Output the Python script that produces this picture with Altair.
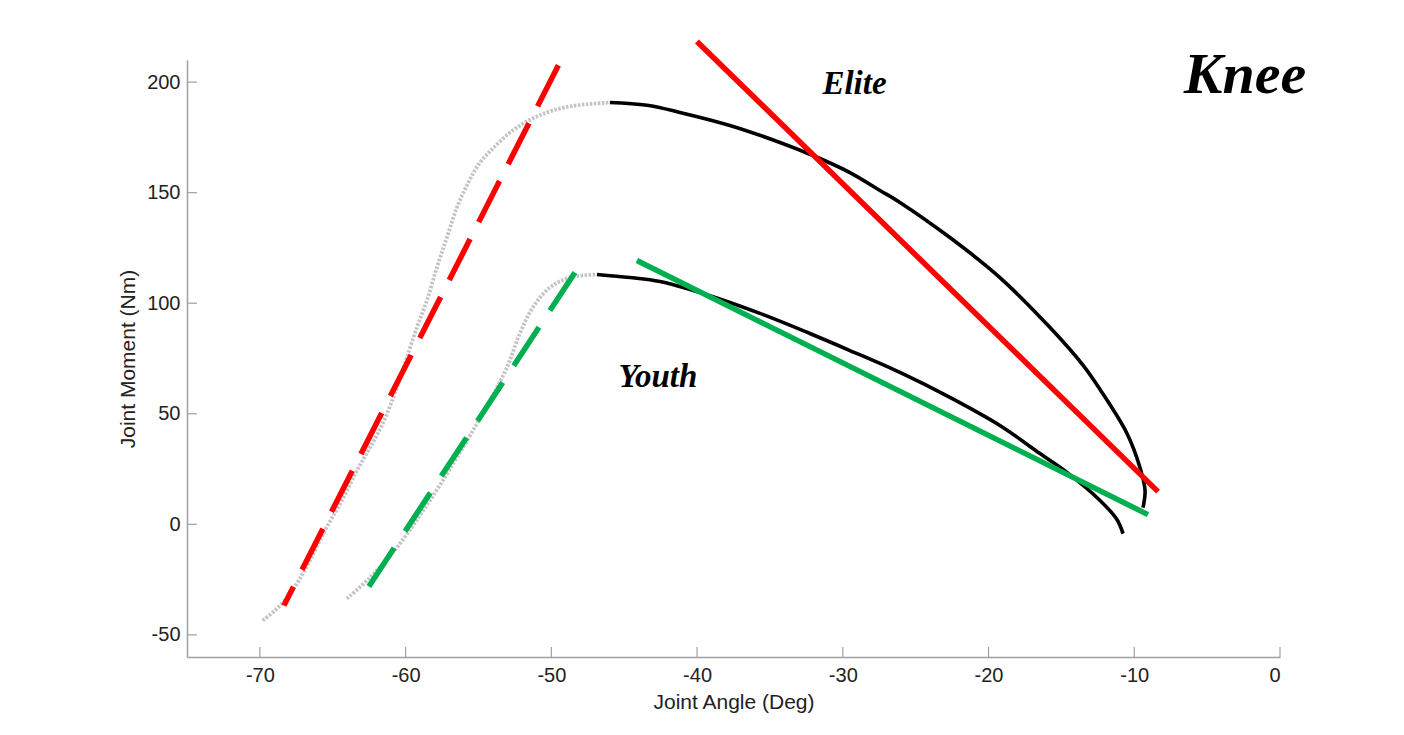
import altair as alt
import pandas as pd

# ---- Elite: early (dotted grey) part and main (black) part of the moment-angle curve
elite_pre_x = [-69.80, -68.97, -68.29, -67.46, -66.57, -65.54, -64.37, -63.34, -62.45, -61.63,
               -60.87, -60.32, -59.91, -59.23, -58.54, -57.85, -57.17, -56.48, -55.70, -54.90,
               -54.01, -52.64, -51.27, -49.89, -48.25, -45.98]
elite_pre_y = [-43.5, -39.0, -34.5, -26.8, -16.4, -2.8, 10.8, 24.3, 34.7, 44.7,
               56.9, 67.3, 75.5, 89.0, 101.2, 116.2, 129.7, 143.3, 154.5, 163.6,
               170.0, 178.2, 183.6, 187.2, 189.5, 190.8]
elite_x = [-45.98, -43.44, -41.18, -37.75, -34.31, -32.05, -29.51, -27.45, -26.08, -22.65,
           -19.22, -15.78, -13.52, -12.35, -10.50, -9.61, -9.26, -9.40]
elite_y = [190.8, 189.5, 186.3, 180.4, 172.7, 166.8, 159.1, 151.0, 145.6, 129.7,
           111.6, 89.0, 72.0, 61.0, 41.1, 25.7, 15.3, 7.6]

# ---- Youth
youth_pre_x = [-64.03, -62.45, -60.60, -58.33, -56.07, -54.22, -53.05, -52.16, -51.27, -50.10,
               -48.73, -46.87]
youth_pre_y = [-33.6, -24.1, -10.5, 10.8, 34.7, 56.0, 70.9, 86.3, 98.1, 107.1, 111.6, 113.0]
youth_x = [-46.87, -44.61, -42.55, -39.60, -35.69, -32.26, -29.51, -26.08, -22.65, -19.22,
           -16.47, -14.62, -12.35, -11.19, -10.77]
youth_y = [113.0, 111.6, 109.8, 104.4, 95.4, 86.3, 78.6, 68.7, 57.4, 44.7,
           32.0, 23.5, 10.8, 2.2, -4.2]

# ---- fitted stiffness lines
elite_dash_x = [-68.35, -49.21]
elite_dash_y = [-36.7, 211.6]
youth_dash_x = [-62.52, -48.38]
youth_dash_y = [-28.1, 113.9]
elite_fit_x = [-40.01, -8.37]
elite_fit_y = [218.4, 14.8]
youth_fit_x = [-44.13, -9.06]
youth_fit_y = [119.3, 4.4]

# ---- axes and annotations
x_ticks = [-70, -60, -50, -40, -30, -20, -10, 0]
y_ticks = [-50, 0, 50, 100, 150, 200]
group_labels = ["Elite", "Youth"]
group_label_x = [-29.2, -42.69]
group_label_y = [194.4, 61.9]
title_text = ["Knee"]
title_x = [-2.4]
title_y = [194.9]


def frame(xs, ys, name):
    return pd.DataFrame({"x": xs, "y": ys, "series": name, "o": list(range(len(xs)))})


W, H = 1093, 597
AX = "#a0a0a0"
xs = alt.Scale(domain=[-75, 0], nice=False, zero=False)
ys = alt.Scale(domain=[-60, 210], nice=False, zero=False)
xaxis = alt.Axis(values=x_ticks, ticks=False, grid=False, domainColor=AX, domainWidth=1.5,
                 labelFont="Liberation Sans", labelFontSize=20, labelColor="#222222",
                 labelPadding=8, labelExpr="'' + datum.value",
                 title="Joint Angle (Deg)", titleFont="Liberation Sans", titleFontSize=21,
                 titleFontWeight="normal", titleColor="#222222", titlePadding=6)
yaxis = alt.Axis(values=y_ticks, ticks=False, grid=False, domainColor=AX, domainWidth=1.5,
                 labelFont="Liberation Sans", labelFontSize=20, labelColor="#222222",
                 labelPadding=7, labelExpr="'' + datum.value",
                 title="Joint Moment (Nm)", titleFont="Liberation Sans", titleFontSize=21,
                 titleFontWeight="normal", titleColor="#222222", titlePadding=8)

X = alt.X("x:Q", scale=xs, axis=xaxis)
Y = alt.Y("y:Q", scale=ys, axis=yaxis)

pre = pd.concat([frame(elite_pre_x, elite_pre_y, "elite"), frame(youth_pre_x, youth_pre_y, "youth")])
main = pd.concat([frame(elite_x, elite_y, "elite"), frame(youth_x, youth_y, "youth")])

grey = alt.Chart(pre).mark_line(color="#c4c4c4", strokeWidth=3.8, strokeDash=[2.5, 1.5],
                                interpolate="catmull-rom").encode(
    x=X, y=Y, order="o:Q", detail="series:N")
black = alt.Chart(main).mark_line(color="#000000", strokeWidth=3.6, interpolate="catmull-rom").encode(
    x=X, y=Y, order="o:Q", detail="series:N")

red_dash = alt.Chart(frame(elite_dash_x, elite_dash_y, "e")).mark_line(
    color="#ff0000", strokeWidth=5.5, strokeDash=[46, 19], strokeDashOffset=25).encode(x=X, y=Y, order="o:Q")
green_dash = alt.Chart(frame(youth_dash_x, youth_dash_y, "y")).mark_line(
    color="#00b050", strokeWidth=5.5, strokeDash=[46, 20]).encode(x=X, y=Y, order="o:Q")
red_fit = alt.Chart(frame(elite_fit_x, elite_fit_y, "e")).mark_line(
    color="#ff0000", strokeWidth=5.5).encode(x=X, y=Y, order="o:Q")
green_fit = alt.Chart(frame(youth_fit_x, youth_fit_y, "y")).mark_line(
    color="#00b050", strokeWidth=5.5).encode(x=X, y=Y, order="o:Q")

xt = alt.Chart(pd.DataFrame({"x": x_ticks})).mark_rule(color=AX, strokeWidth=1.2).encode(
    x=X, y=alt.value(H), y2=alt.value(H - 10))
yt = alt.Chart(pd.DataFrame({"y": y_ticks})).mark_rule(color=AX, strokeWidth=1.2).encode(
    y=Y, x=alt.value(0), x2=alt.value(10))

labels = alt.Chart(pd.DataFrame({"x": group_label_x, "y": group_label_y, "t": group_labels})).mark_text(
    font="Liberation Serif", fontStyle="italic", fontWeight="bold", fontSize=33,
    align="center", baseline="alphabetic", color="#000000").encode(x=X, y=Y, text="t:N")
knee = alt.Chart(pd.DataFrame({"x": title_x, "y": title_y, "t": title_text})).mark_text(
    font="Liberation Serif", fontStyle="italic", fontWeight="bold", fontSize=58,
    align="center", baseline="alphabetic", color="#000000").encode(x=X, y=Y, text="t:N")

chart = alt.layer(grey, black, red_dash, green_dash, red_fit, green_fit, xt, yt, labels, knee).properties(
    width=W, height=H,
    autosize=alt.AutoSizeParams(type="none"),
    padding={"left": 179, "top": 52, "right": 100, "bottom": 60},
    background="white",
).configure_view(stroke=None)

chart.save("out.html", embed_options={"renderer": "svg", "actions": False})
